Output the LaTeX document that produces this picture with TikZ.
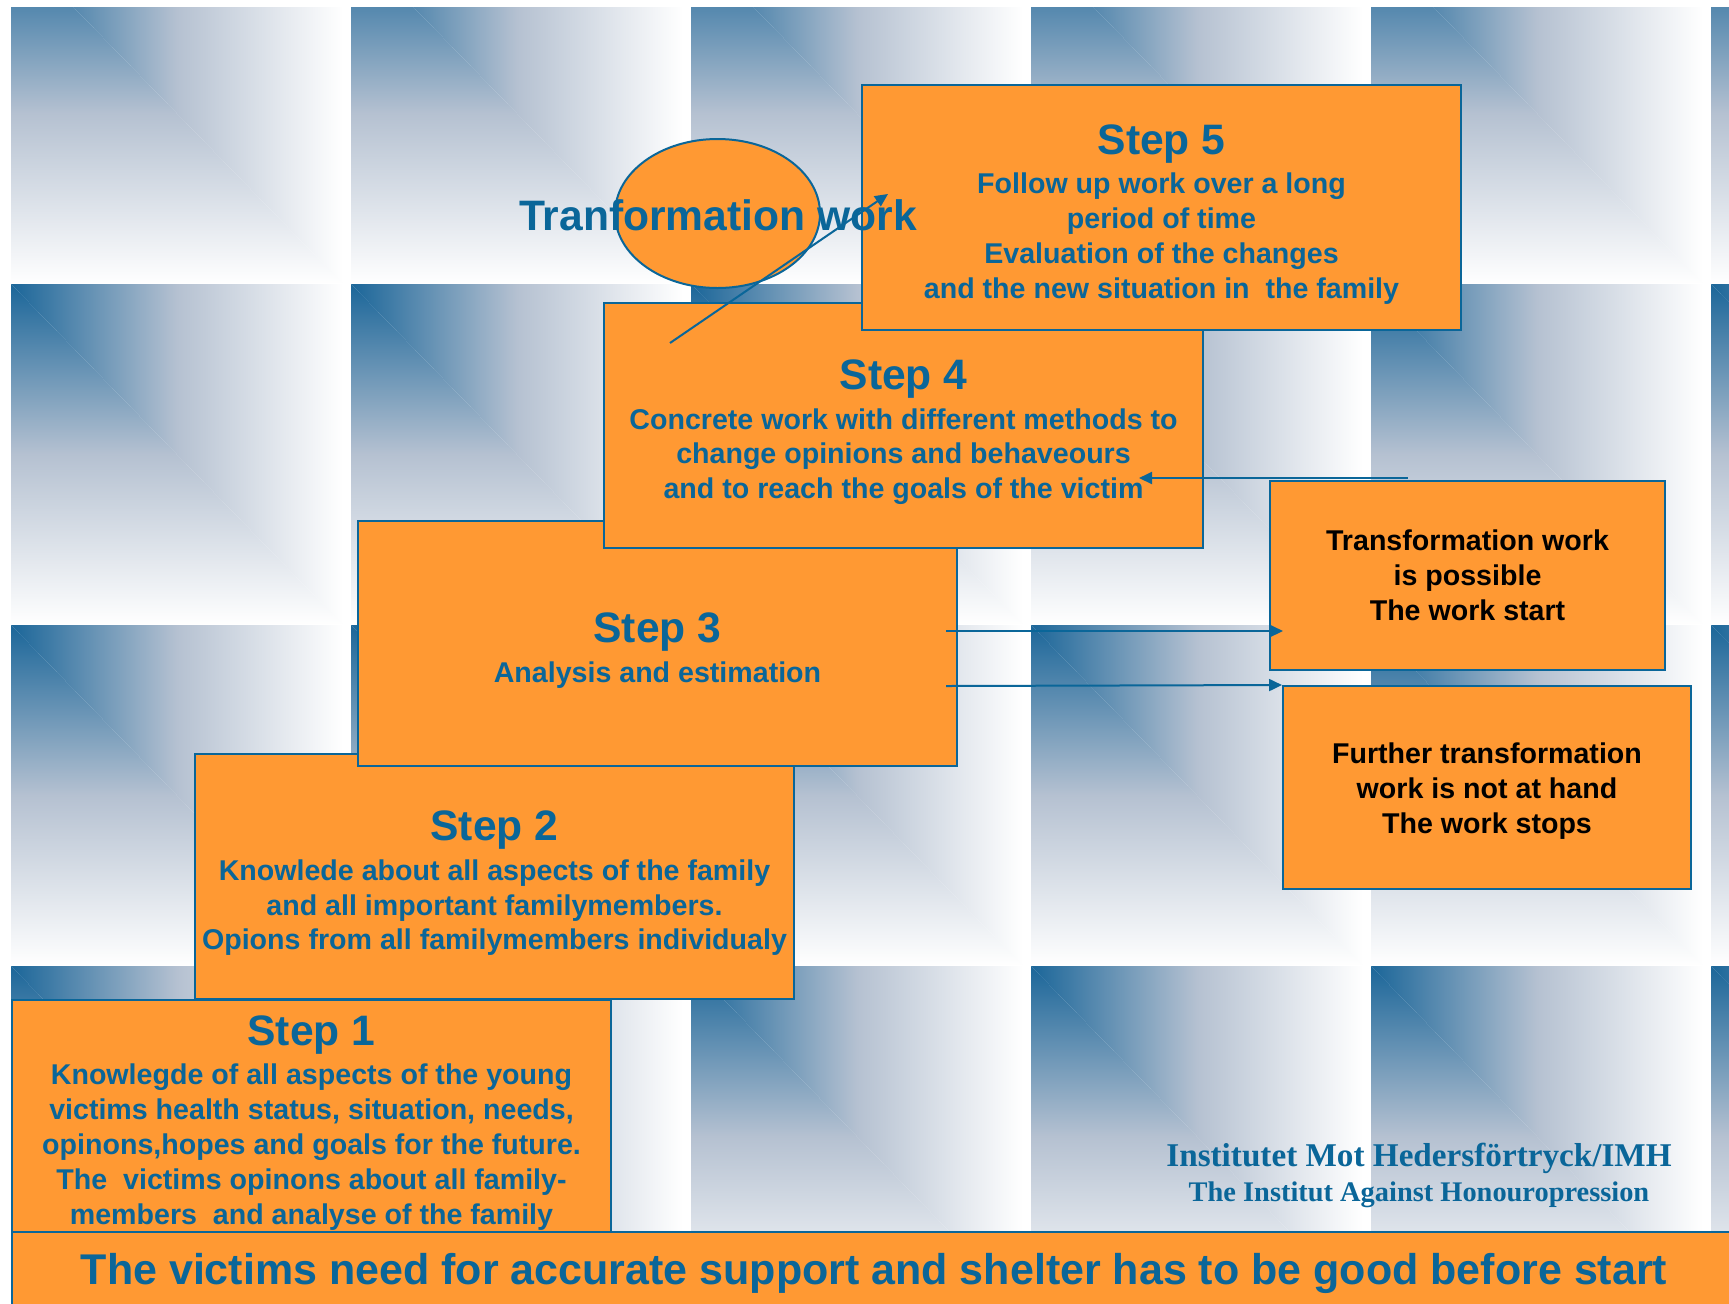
\documentclass[tikz,border=0pt]{standalone}
\usepackage{fontspec}
\setmainfont{Liberation Sans}
\newfontfamily\imhserif{Liberation Serif}
\usepackage{xcolor}
\definecolor{IMHOrange}{HTML}{FF9933}
\definecolor{IMHBlue}{HTML}{0A6699}
\definecolor{TileDark}{HTML}{1B6699}
\definecolor{TileMid}{HTML}{B5C1D1}
\usetikzlibrary{calc,arrows.meta,shapes.geometric}
\newcommand{\stephead}[1]{{\fontsize{21.3}{24}\selectfont\rule{0pt}{21.8pt}#1}\\[2.3pt]}

\begin{document}
\begin{tikzpicture}[x=0.5pt, y=-0.5pt, every node/.style={font=\bfseries\fontsize{14.3}{17.4}\selectfont},
  stepbox/.style={draw=IMHBlue, line width=1pt, fill=IMHOrange, text=IMHBlue, anchor=north west,
    minimum width=299.5pt, minimum height=122.5pt, inner sep=0pt, align=center},
  outbox/.style={draw=IMHBlue, line width=1pt, fill=IMHOrange, text=black, anchor=north west,
    inner sep=0pt, align=center},
  flow/.style={draw=IMHBlue, line width=1pt, -{Triangle[length=6.5pt, width=6pt]}}]
  \useasboundingbox (0,0) rectangle (1729,1303);
  \begin{scope}
    \clip (11,7) rectangle (1729,1303);
    \foreach \col in {0,...,5} {
      \foreach \row in {-1,...,2} {
        \pgfmathsetmacro\tx{11+340*\col}
        \pgfmathsetmacro\ty{284+341*\row}
        \shade[left color=TileDark, right color=white, middle color=TileMid]
          (\tx,\ty) -- ++(332,0) -- ++(0,341) -- cycle;
        \shade[top color=TileDark, bottom color=white, middle color=TileMid]
          (\tx,\ty) -- ++(0,341) -- ++(332,0) -- cycle;
      }
    }
  \end{scope}
  \node[stepbox, minimum height=116pt] (s1) at (11,999) {\stephead{Step 1}Knowlegde of all aspects of the young\\
    victims health status, situation, needs,\\opinons,hopes and goals for the future.\\
    The~ victims opinons about all family-\\members~ and analyse of the family};
  \node[stepbox] (s2) at (194,753) {\stephead{Step 2}Knowlede about all aspects of the family\\
    and all important familymembers.\\Opions from all familymembers individualy};
  \node[stepbox] (s3) at (357,520) {\stephead{Step 3}Analysis and estimation};
  \node[stepbox] (s4) at (603,302) {\stephead{Step 4}Concrete work with different methods to\\
    change opinions and behaveours\\and to reach the goals of the victim};
  \node[stepbox] (s5) at (861,84) {\stephead{Step 5}Follow up work over a long\\period of time\\
    Evaluation of the changes\\and the new situation in~ the family};
  \node[outbox, minimum width=197.5pt, minimum height=94.5pt] (poss) at (1269,480)
    {Transformation work\\is possible\\The work start};
  \node[outbox, minimum width=204pt, minimum height=101.5pt] (furt) at (1282,685)
    {\rule{0pt}{13.7pt}Further transformation\\work is not at hand\\The work stops};
  \node[ellipse, draw=IMHBlue, line width=1pt, fill=IMHOrange, minimum width=102.5pt,
    minimum height=74.5pt, inner sep=0pt] (twell) at (717.5,213.5) {};
  \node[text=IMHBlue, font=\bfseries\fontsize{21.3}{24}\selectfont] (twlabel) at (718,215) {Tranformation work};
  \coordinate (twtail) at (670,343);
  \coordinate (twhead) at (888,194);
  \draw[flow] (twtail) -- (twhead);
  \draw[flow] ($(poss.north)+(-60,-2)$) -- ($(s4.east |- poss.north)+(-65,-2)$);
  \draw[flow] ($(s3.east)+(-12,-12.5)$) -- ($(s3.east -| poss.west)+(14,-12.5)$);
  \draw[flow] ($(s3.east)+(-12,42.5)$) -- (furt.north west);
  \node[text=IMHBlue, font=\imhserif\bfseries\fontsize{16.6}{19}\selectfont] (imh) at (1419,1158.5)
    {Institutet Mot Hedersförtryck/IMH};
  \node[text=IMHBlue, font=\imhserif\bfseries\fontsize{14.2}{17}\selectfont] (imheng) at (1419,1194.5)
    {The Institut Against Honouropression};
  \node[draw=IMHBlue, line width=1pt, fill=IMHOrange, text=IMHBlue, anchor=north west, minimum width=862pt,
    minimum height=37.5pt, inner sep=0pt, font=\bfseries\fontsize{21.5}{24}\selectfont] (bar) at (11,1231)
    {\rule{0pt}{20pt}The victims need for accurate support and shelter has to be good before start};
\end{tikzpicture}
\end{document}
